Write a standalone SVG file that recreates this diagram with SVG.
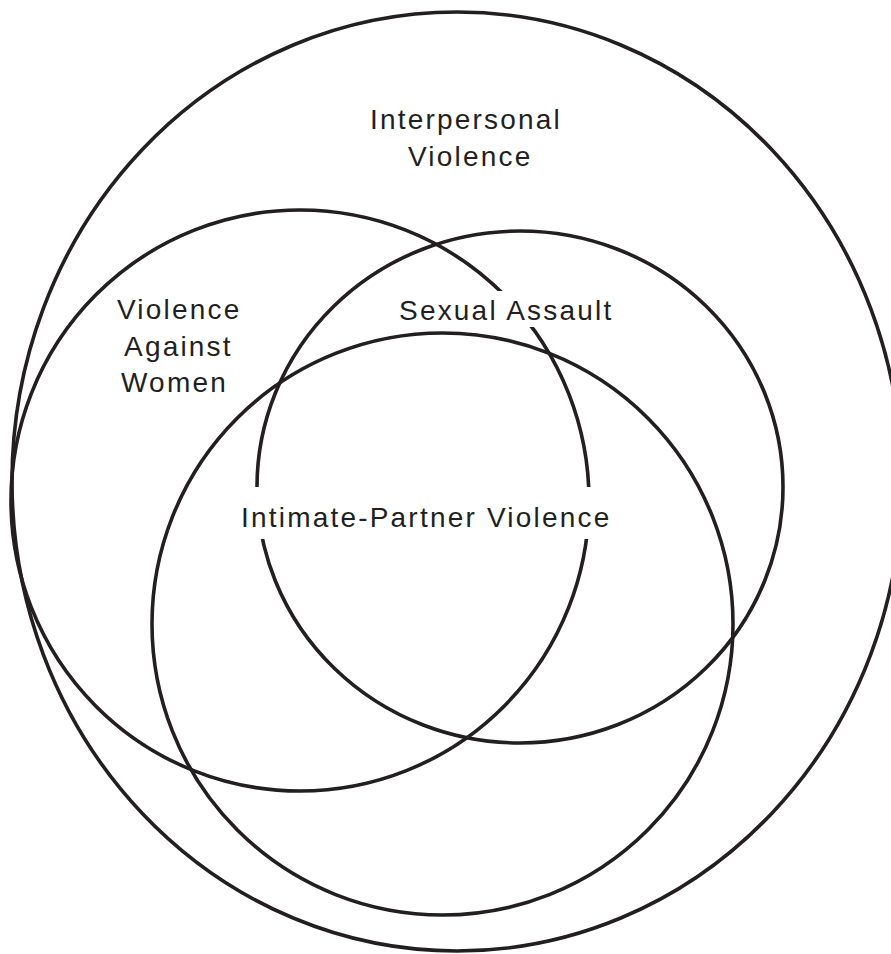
<svg xmlns="http://www.w3.org/2000/svg" width="891" height="954" viewBox="0 0 891 954">
<style>
.ring{fill:none;stroke:#231f20;stroke-width:3.6}
.lbl{font-family:"Liberation Sans",Arial,sans-serif;font-size:28px;fill:#231f20;letter-spacing:2.2px}
.knock{fill:#ffffff}
</style>
<rect width="891" height="954" fill="#ffffff"/>
<g id="connectors"></g>
<g id="interpersonal">
<ellipse class="ring" cx="457" cy="481.5" rx="445" ry="469.5"/>
</g>
<g id="violence-against-women">
<ellipse class="ring" cx="300" cy="500.5" rx="289" ry="290.5"/>
</g>
<g id="sexual-assault">
<ellipse class="ring" cx="520" cy="487" rx="263" ry="256"/>
</g>
<g id="intimate-partner">
<ellipse class="ring" cx="442.5" cy="624" rx="290.5" ry="291"/>
</g>
<g id="labels">
<rect class="knock" x="395" y="291" width="227" height="36"/>
<rect class="knock" x="238" y="487" width="377" height="52"/>
<text class="lbl" x="370" y="129">Interpersonal</text>
<text class="lbl" x="408" y="166">Violence</text>
<text class="lbl" x="117" y="319">Violence</text>
<text class="lbl" x="124" y="356">Against</text>
<text class="lbl" x="121" y="392">Women</text>
<text class="lbl" x="399" y="320">Sexual Assault</text>
<text class="lbl" x="241" y="527">Intimate-Partner Violence</text>
</g>
</svg>
